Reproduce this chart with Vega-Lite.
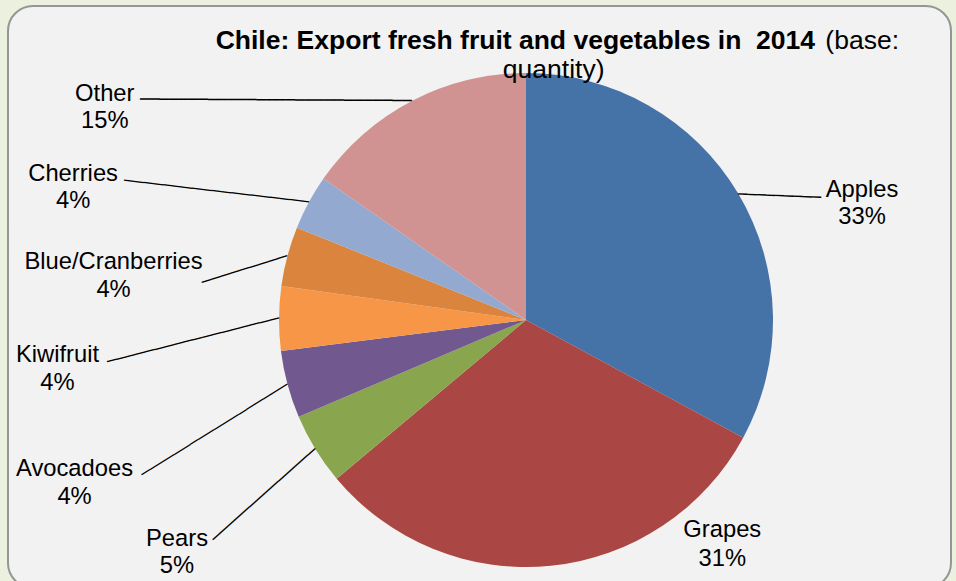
{
  "$schema": "https://vega.github.io/schema/vega-lite/v6.json",
  "width": 943,
  "height": 582,
  "autosize": {"type": "none"},
  "padding": {"left": 8, "top": 6, "right": 5, "bottom": -7},
  "background": "#EBF1DE",
  "view": {"fill": "#F2F2F2", "stroke": "#959595", "strokeWidth": 2, "cornerRadius": 25},
  "config": {
    "view": {"fill": "#F2F2F2", "stroke": "#959595", "strokeWidth": 2, "cornerRadius": 25},
    "style": {"cell": {"fill": "#F2F2F2", "stroke": "#959595", "strokeWidth": 2, "cornerRadius": 25}}
  },
  "title": {
    "text": "Chile: Export fresh fruit and vegetables in\u00a0 2014",
    "subtitle": [
      "(base:",
      "quantity)\u00a0\u00a0\u00a0\u00a0\u00a0\u00a0\u00a0\u00a0\u00a0\u00a0\u00a0\u00a0\u00a0\u00a0\u00a0\u00a0\u00a0\u00a0\u00a0\u00a0\u00a0\u00a0\u00a0\u00a0\u00a0\u00a0\u00a0\u00a0\u00a0\u00a0\u00a0\u00a0\u00a0\u00a0\u00a0\u00a0\u00a0\u00a0\u00a0\u00a0\u200b"
    ],
    "anchor": "end",
    "frame": "group",
    "dx": -52,
    "encoding": {"dx": {"value": -136}},
    "offset": -77.5,
    "font": "Liberation Sans",
    "fontSize": 26.5,
    "fontWeight": "bold",
    "color": "#000000",
    "subtitleFont": "Liberation Sans",
    "subtitleFontSize": 26.5,
    "subtitleFontWeight": "normal",
    "subtitleColor": "#000000",
    "subtitlePadding": -26.5,
    "subtitleLineHeight": 29
  },
  "data": {
    "values": [
      {"rank": 1, "fruit": "Apples", "share": 0.329},
      {"rank": 2, "fruit": "Grapes", "share": 0.310},
      {"rank": 3, "fruit": "Pears", "share": 0.047},
      {"rank": 4, "fruit": "Avocadoes", "share": 0.044},
      {"rank": 5, "fruit": "Kiwifruit", "share": 0.042},
      {"rank": 6, "fruit": "Blue/Cranberries", "share": 0.039},
      {"rank": 7, "fruit": "Cherries", "share": 0.036},
      {"rank": 8, "fruit": "Other", "share": 0.153}
    ]
  },
  "encoding": {
    "theta": {"field": "share", "type": "quantitative", "stack": true},
    "order": {"field": "rank", "type": "quantitative", "sort": "ascending"}
  },
  "layer": [
    {
      "mark": {"type": "arc", "x": 518, "y": 314, "radius": 247},
      "encoding": {
        "color": {
          "field": "fruit",
          "type": "nominal",
          "legend": null,
          "scale": {
            "domain": ["Apples", "Grapes", "Pears", "Avocadoes", "Kiwifruit", "Blue/Cranberries", "Cherries", "Other"],
            "range": ["#4572A7", "#AA4643", "#89A54E", "#71588F", "#F79646", "#DB843D", "#93A9CF", "#D19392"]
          }
        }
      }
    },
    {
      "mark": {"type": "text", "x": 518, "y": 314, "radius": 247, "align": "right", "baseline": "middle", "font": "DejaVu Sans Mono", "fontWeight": "bold", "color": "#000000"},
      "encoding": {
        "text": {
          "condition": [
            {"test": "datum.fruit === 'Apples'", "value": "─────────"},
            {"test": "datum.fruit === 'Pears'", "value": "──────────────"},
            {"test": "datum.fruit === 'Avocadoes'", "value": "──────────────────"},
            {"test": "datum.fruit === 'Kiwifruit'", "value": "──────────────────"},
            {"test": "datum.fruit === 'Blue/Cranberries'", "value": "─────────"},
            {"test": "datum.fruit === 'Cherries'", "value": "───────────────────"},
            {"test": "datum.fruit === 'Other'", "value": "────────────────────────────"}
          ],
          "value": ""
        },
        "angle": {
          "condition": [
            {"test": "datum.fruit === 'Apples'", "value": 182.4},
            {"test": "datum.fruit === 'Pears'", "value": -41.6},
            {"test": "datum.fruit === 'Avocadoes'", "value": -31.9},
            {"test": "datum.fruit === 'Kiwifruit'", "value": -14.3},
            {"test": "datum.fruit === 'Blue/Cranberries'", "value": -17.3},
            {"test": "datum.fruit === 'Cherries'", "value": 6.64},
            {"test": "datum.fruit === 'Other'", "value": 0.3}
          ],
          "value": 0
        },
        "size": {
          "condition": [
            {"test": "datum.fruit === 'Apples'", "value": 15.3},
            {"test": "datum.fruit === 'Pears'", "value": 16.24},
            {"test": "datum.fruit === 'Avocadoes'", "value": 15.83},
            {"test": "datum.fruit === 'Kiwifruit'", "value": 16.38},
            {"test": "datum.fruit === 'Blue/Cranberries'", "value": 16.48},
            {"test": "datum.fruit === 'Cherries'", "value": 16.26},
            {"test": "datum.fruit === 'Other'", "value": 16.14}
          ],
          "value": 16
        }
      }
    },
    {"mark": {"type": "text", "x": 518, "y": 314, "radius": 247, "dx": 123.8, "dy": 3.5, "font": "Liberation Sans", "fontSize": 23.75, "align": "center", "baseline": "alphabetic", "color": "#000000"},
     "encoding": {"text": {"condition": {"test": "datum.fruit === 'Apples'", "field": "fruit"}, "value": ""}}},
    {"mark": {"type": "text", "x": 518, "y": 314, "radius": 247, "dx": 123.8, "dy": 30.5, "font": "Liberation Sans", "fontSize": 23.75, "align": "center", "baseline": "alphabetic", "color": "#000000"},
     "encoding": {"text": {"condition": {"test": "datum.fruit === 'Apples'", "field": "share", "type": "quantitative", "format": ".0%"}, "value": ""}}},
    {"mark": {"type": "text", "x": 518, "y": 314, "radius": 247, "dx": 171.5, "dy": -28.7, "font": "Liberation Sans", "fontSize": 23.75, "align": "center", "baseline": "alphabetic", "color": "#000000"},
     "encoding": {"text": {"condition": {"test": "datum.fruit === 'Grapes'", "field": "fruit"}, "value": ""}}},
    {"mark": {"type": "text", "x": 518, "y": 314, "radius": 247, "dx": 171.5, "dy": 0.3, "font": "Liberation Sans", "fontSize": 23.75, "align": "center", "baseline": "alphabetic", "color": "#000000"},
     "encoding": {"text": {"condition": {"test": "datum.fruit === 'Grapes'", "field": "share", "type": "quantitative", "format": ".0%"}, "value": ""}}},
    {"mark": {"type": "text", "x": 518, "y": 314, "radius": 247, "dx": -138.4, "dy": 96.9, "font": "Liberation Sans", "fontSize": 23.75, "align": "center", "baseline": "alphabetic", "color": "#000000"},
     "encoding": {"text": {"condition": {"test": "datum.fruit === 'Pears'", "field": "fruit"}, "value": ""}}},
    {"mark": {"type": "text", "x": 518, "y": 314, "radius": 247, "dx": -138.4, "dy": 123.9, "font": "Liberation Sans", "fontSize": 23.75, "align": "center", "baseline": "alphabetic", "color": "#000000"},
     "encoding": {"text": {"condition": {"test": "datum.fruit === 'Pears'", "field": "share", "type": "quantitative", "format": ".0%"}, "value": ""}}},
    {"mark": {"type": "text", "x": 518, "y": 314, "radius": 247, "dx": -213, "dy": 91.7, "font": "Liberation Sans", "fontSize": 23.75, "align": "center", "baseline": "alphabetic", "color": "#000000"},
     "encoding": {"text": {"condition": {"test": "datum.fruit === 'Avocadoes'", "field": "fruit"}, "value": ""}}},
    {"mark": {"type": "text", "x": 518, "y": 314, "radius": 247, "dx": -213, "dy": 119.7, "font": "Liberation Sans", "fontSize": 23.75, "align": "center", "baseline": "alphabetic", "color": "#000000"},
     "encoding": {"text": {"condition": {"test": "datum.fruit === 'Avocadoes'", "field": "share", "type": "quantitative", "format": ".0%"}, "value": ""}}},
    {"mark": {"type": "text", "x": 518, "y": 314, "radius": 247, "dx": -221.5, "dy": 43.7, "font": "Liberation Sans", "fontSize": 23.75, "align": "center", "baseline": "alphabetic", "color": "#000000"},
     "encoding": {"text": {"condition": {"test": "datum.fruit === 'Kiwifruit'", "field": "fruit"}, "value": ""}}},
    {"mark": {"type": "text", "x": 518, "y": 314, "radius": 247, "dx": -221.5, "dy": 71.7, "font": "Liberation Sans", "fontSize": 23.75, "align": "center", "baseline": "alphabetic", "color": "#000000"},
     "encoding": {"text": {"condition": {"test": "datum.fruit === 'Kiwifruit'", "field": "share", "type": "quantitative", "format": ".0%"}, "value": ""}}},
    {"mark": {"type": "text", "x": 518, "y": 314, "radius": 247, "dx": -173.8, "dy": 12.5, "font": "Liberation Sans", "fontSize": 23.75, "align": "center", "baseline": "alphabetic", "color": "#000000"},
     "encoding": {"text": {"condition": {"test": "datum.fruit === 'Blue/Cranberries'", "field": "fruit"}, "value": ""}}},
    {"mark": {"type": "text", "x": 518, "y": 314, "radius": 247, "dx": -173.8, "dy": 40.5, "font": "Liberation Sans", "fontSize": 23.75, "align": "center", "baseline": "alphabetic", "color": "#000000"},
     "encoding": {"text": {"condition": {"test": "datum.fruit === 'Blue/Cranberries'", "field": "share", "type": "quantitative", "format": ".0%"}, "value": ""}}},
    {"mark": {"type": "text", "x": 518, "y": 314, "radius": 247, "dx": -235.7, "dy": -21.5, "font": "Liberation Sans", "fontSize": 23.75, "align": "center", "baseline": "alphabetic", "color": "#000000"},
     "encoding": {"text": {"condition": {"test": "datum.fruit === 'Cherries'", "field": "fruit"}, "value": ""}}},
    {"mark": {"type": "text", "x": 518, "y": 314, "radius": 247, "dx": -235.7, "dy": 5.5, "font": "Liberation Sans", "fontSize": 23.75, "align": "center", "baseline": "alphabetic", "color": "#000000"},
     "encoding": {"text": {"condition": {"test": "datum.fruit === 'Cherries'", "field": "share", "type": "quantitative", "format": ".0%"}, "value": ""}}},
    {"mark": {"type": "text", "x": 518, "y": 314, "radius": 247, "dx": -307, "dy": 0.1, "font": "Liberation Sans", "fontSize": 23.75, "align": "center", "baseline": "alphabetic", "color": "#000000"},
     "encoding": {"text": {"condition": {"test": "datum.fruit === 'Other'", "field": "fruit"}, "value": ""}}},
    {"mark": {"type": "text", "x": 518, "y": 314, "radius": 247, "dx": -307, "dy": 27.1, "font": "Liberation Sans", "fontSize": 23.75, "align": "center", "baseline": "alphabetic", "color": "#000000"},
     "encoding": {"text": {"condition": {"test": "datum.fruit === 'Other'", "field": "share", "type": "quantitative", "format": ".0%"}, "value": ""}}}
  ]
}
